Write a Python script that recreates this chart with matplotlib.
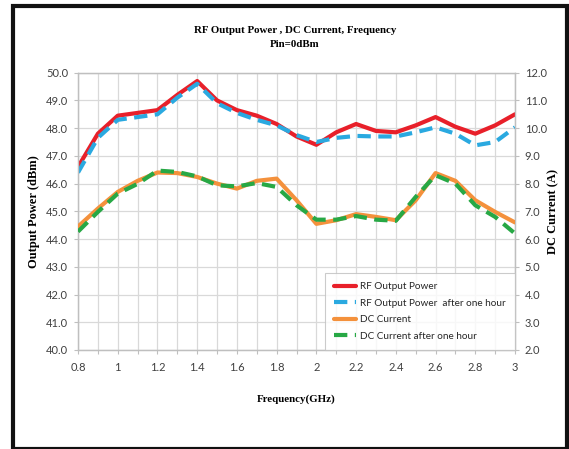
import numpy as np
import matplotlib
matplotlib.use("Agg")
import matplotlib.pyplot as plt
from matplotlib.patches import Rectangle

# frequency points (GHz)
freq = [0.8, 0.9, 1.0, 1.1, 1.2, 1.3, 1.4, 1.5, 1.6, 1.7, 1.8,
        1.9, 2.0, 2.1, 2.2, 2.3, 2.4, 2.5, 2.6, 2.7, 2.8, 2.9, 3.0]

# RF output power (dBm)
rf_power = [46.6, 47.8, 48.45, 48.55, 48.65, 49.2, 49.7, 49.0, 48.65, 48.45, 48.15,
            47.7, 47.4, 47.85, 48.15, 47.9, 47.85, 48.1, 48.4, 48.05, 47.8, 48.1, 48.5]
rf_power_1h = [46.4, 47.65, 48.3, 48.4, 48.5, 49.1, 49.6, 48.9, 48.55, 48.3, 48.1,
               47.75, 47.5, 47.65, 47.72, 47.7, 47.7, 47.85, 48.03, 47.8, 47.38, 47.5, 48.03]

# DC current (A)
dc_current = [6.45, 7.1, 7.7, 8.1, 8.4, 8.38, 8.24, 8.0, 7.82, 8.1, 8.18,
              7.4, 6.55, 6.68, 6.9, 6.8, 6.68, 7.4, 8.38, 8.1, 7.4, 6.98, 6.6]
dc_current_1h = [6.27, 6.98, 7.64, 7.99, 8.47, 8.42, 8.26, 7.94, 7.9, 8.02, 7.88,
                 7.22, 6.7, 6.7, 6.83, 6.7, 6.66, 7.52, 8.3, 8.0, 7.22, 6.8, 6.2]

tick_font = ['Lato', 'DejaVu Sans']
serif = 'Liberation Serif'
grid_col = '#d9d9d9'
tick_col = '#404040'

fig = plt.figure(figsize=(5.69, 4.49), dpi=100)
ax = fig.add_axes([0.1371, 0.2205, 0.768, 0.6176])
ax2 = ax.twinx()

l1, = ax.plot(freq, rf_power, color='#e8202a', lw=3.0, solid_capstyle='round',
              solid_joinstyle='round', label='RF Output Power', zorder=3)
l2, = ax.plot(freq, rf_power_1h, color='#2aa9e0', lw=3.0, dashes=(3.2, 1.8),
              label='RF Output Power  after one hour', zorder=4)
l3, = ax2.plot(freq, dc_current, color='#f4913c', lw=3.0, solid_capstyle='round',
               solid_joinstyle='round', label='DC Current', zorder=3)
l4, = ax2.plot(freq, dc_current_1h, color='#27a845', lw=3.0, dashes=(3.2, 1.8),
               label='DC Current after one hour', zorder=4)

ax.set_xlim(0.8, 3.0)
ax.set_ylim(40, 50)
ax2.set_ylim(2, 12)

ax.set_xticks(np.arange(0.8, 3.01, 0.2))
ax.set_xticklabels(['0.8', '1', '1.2', '1.4', '1.6', '1.8', '2', '2.2', '2.4', '2.6', '2.8', '3'])
ax.set_xticks(np.arange(0.8, 3.01, 0.1), minor=True)
ax.set_yticks(np.arange(40, 50.1, 1))
ax.set_yticklabels(['%.1f' % v for v in np.arange(40, 50.1, 1)])
ax2.set_yticks(np.arange(2, 12.1, 1))
ax2.set_yticklabels(['%.1f' % v for v in np.arange(2, 12.1, 1)])

ax.grid(True, which='both', color=grid_col, lw=0.9)
ax.set_axisbelow(True)
for a in (ax, ax2):
    for s in a.spines.values():
        s.set_color('#bfbfbf')
        s.set_linewidth(0.9)
    a.tick_params(which='both', length=3, width=0.8, color='#bfbfbf',
                  labelsize=8, labelcolor=tick_col, pad=4)
    for lab in a.get_xticklabels() + a.get_yticklabels():
        lab.set_family(tick_font)
ax.tick_params(axis='x', which='major', pad=6)

ax.set_xlabel('Frequency(GHz)', family=serif, fontweight='bold', fontsize=7.8, labelpad=15)
ax.set_ylabel('Output Power (dBm)', family=serif, fontweight='bold', fontsize=9, labelpad=4)
ax2.set_ylabel('DC Current (A)', family=serif, fontweight='bold', fontsize=9, labelpad=0)

fig.text(0.518, 0.933, 'RF Output Power , DC Current, Frequency', family=serif,
         fontweight='bold', fontsize=7.8, ha='center', va='center')
fig.text(0.518, 0.902, 'Pin=0dBm', family=serif, fontweight='bold', fontsize=7.8,
         ha='center', va='center')

leg = ax2.legend(handles=[l1, l2, l3, l4], loc='lower right', bbox_to_anchor=(1.0, 0.0),
                 frameon=True, fancybox=False, edgecolor='#bfbfbf', fontsize=7.2,
                 handlelength=2.2, handletextpad=0.4, labelspacing=0.75,
                 borderpad=0.9, borderaxespad=0.0)
leg.get_frame().set_linewidth(0.8)
for t in leg.get_texts():
    t.set_family(tick_font)
    t.set_color('#262626')

# black outer frame
fig.patches.append(Rectangle((13 / 569, 0.0), (567 - 13) / 569, 1 - 5.5 / 449,
                             transform=fig.transFigure, fill=False,
                             edgecolor='#111111', lw=3.0, zorder=10))

fig.savefig('out.png', dpi=100)
